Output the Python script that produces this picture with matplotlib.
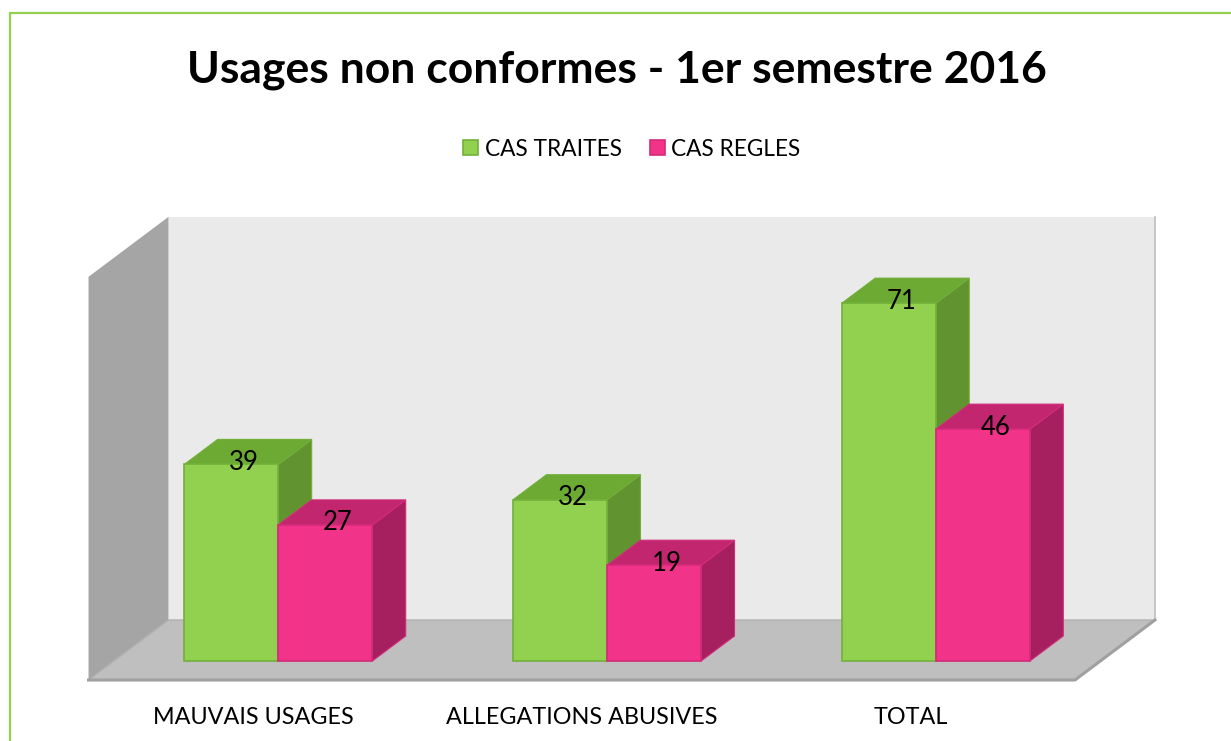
import matplotlib
matplotlib.use("Agg")
import matplotlib.pyplot as plt
from matplotlib.patches import Polygon, Rectangle
import numpy as np

# ---------------- data ----------------
title = "Usages non conformes - 1er semestre 2016"
categories = ["MAUVAIS USAGES", "ALLEGATIONS ABUSIVES", "TOTAL"]
series_names = ["CAS TRAITES", "CAS REGLES"]
cas_traites = [39, 32, 71]
cas_regles = [27, 19, 46]
axis_max = 80

# ---------------- style ----------------
W, H = 1231, 741
FONT = "Lato"
front_cols = ["#92D050", "#F2338A"]
top_cols = ["#6DAA34", "#C1266E"]
side_cols = ["#629331", "#A61F5E"]
edge_cols = ["#72B03A", "#D42A7A"]
back_wall_col = "#EAEAEA"
left_wall_col = "#A5A5A5"
floor_col = "#BFBFBF"
floor_edge_col = "#A0A0A0"
border_col = "#92D050"

# pixel mapping of the data plane (front faces of bars)
x0_px, x_scale = 278.3, 328.8     # px of category 0 centre, px per category
y0_px, y_scale = 661.0, 5.04      # px (from top) of value 0, px per unit
# oblique depth: full depth vector in data units
ddx = 80.0 / x_scale
ddy = 60.0 / y_scale
t_front, t_bar, t_back = -0.317, 0.417, 0.683
bar_w = 0.286

fig = plt.figure(figsize=(W / 100, H / 100), dpi=100)
ax = fig.add_axes([0, 0, 1, 1])
ax.set_xlim(-x0_px / x_scale, (W - x0_px) / x_scale)
ax.set_ylim((y0_px - H) / y_scale, y0_px / y_scale)
ax.axis("off")


def P(x, y, t):
    return (x + t * ddx, y + t * ddy)


n = len(categories)
xl, xr = -0.5, n - 0.5

# left wall
ax.add_patch(Polygon([P(xl, 0, t_front), P(xl, 0, t_back), P(xl, axis_max, t_back),
                      P(xl, axis_max, t_front)], closed=True, fc=left_wall_col, ec="none", zorder=1))
# back wall
ax.add_patch(Polygon([P(xl, 0, t_back), P(xr, 0, t_back), P(xr, axis_max, t_back),
                      P(xl, axis_max, t_back)], closed=True, fc=back_wall_col, ec="none", zorder=1))
bx = [P(xr, 0, t_back)[0], P(xr, axis_max, t_back)[0]]
by = [P(xr, 0, t_back)[1], P(xr, axis_max, t_back)[1]]
ax.plot(bx, by, color="#BDBDBD", lw=1.2, zorder=1.1)
# floor
ax.add_patch(Polygon([P(xl, 0, t_front), P(xr, 0, t_front), P(xr, 0, t_back),
                      P(xl, 0, t_back)], closed=True, fc=floor_col, ec="none", zorder=2))
fx = [P(xl, 0, t_front)[0], P(xr, 0, t_front)[0], P(xr, 0, t_back)[0]]
fy = [P(xl, 0, t_front)[1], P(xr, 0, t_front)[1], P(xr, 0, t_back)[1]]
ax.plot(fx, fy, color=floor_edge_col, lw=2.2, zorder=2.1, solid_joinstyle="miter")
lx = [P(xl, 0, t_front)[0], P(xl, 0, t_back)[0], P(xr, 0, t_back)[0]]
ly = [P(xl, 0, t_front)[1], P(xl, 0, t_back)[1], P(xr, 0, t_back)[1]]
ax.plot(lx, ly, color="#B0B0B0", lw=1.0, zorder=2.05)

# bars
xs = np.arange(n)
bdx, bdy = t_bar * ddx, t_bar * ddy
z = 3
for s, vals in enumerate([cas_traites, cas_regles]):
    lefts = xs - bar_w + s * bar_w
    for xleft, v in zip(lefts, vals):
        xright = xleft + bar_w
        side = [(xright, 0), (xright + bdx, bdy), (xright + bdx, v + bdy), (xright, v)]
        top = [(xleft, v), (xright, v), (xright + bdx, v + bdy), (xleft + bdx, v + bdy)]
        ax.add_patch(Polygon(side, closed=True, fc=side_cols[s], ec=edge_cols[s], lw=0.8, zorder=z))
        ax.add_patch(Polygon(top, closed=True, fc=top_cols[s], ec=edge_cols[s], lw=0.8, zorder=z))
    ax.bar(lefts, vals, width=bar_w, align="edge", color=front_cols[s],
           edgecolor=edge_cols[s], linewidth=1.2, zorder=z + 0.5)
    for xleft, v in zip(lefts, vals):
        ax.text(xleft + bar_w / 2 + 0.038, v + 0.4, f"{v}", ha="center", va="center",
                fontsize=18.5, family=FONT, color="black", zorder=10)
    z += 1

# category labels on front floor edge
for i, c in enumerate(categories):
    cx, cy = P(i, 0, t_front)
    ax.text(cx, cy - 7.4, c, ha="center", va="center", fontsize=16.8,
            family=FONT, color="black")


def fpx(x, y):
    return x / W, 1 - y / H


# title
fig.text(*fpx(616.5, 82), title, ha="center", va="baseline", fontsize=32,
         fontweight="bold", family=FONT, color="black")

# legend
leg_items = [(463, 485), (650, 671)]
for s, (sqx, txx) in enumerate(leg_items):
    fx0, fy0 = fpx(sqx, 155)
    fig.patches.append(Rectangle((fx0, fy0), 15 / W, 15 / H, transform=fig.transFigure,
                                 fc=front_cols[s], ec=edge_cols[s], lw=1.2))
    fig.text(*fpx(txx, 150), series_names[s], ha="left", va="center", fontsize=16.3,
             family=FONT, color="black")

# outer border
bx0, by0 = fpx(9.5, 745)
fig.patches.append(Rectangle((bx0, by0), 1.2, (745 - 12.5) / H, transform=fig.transFigure,
                             fc="none", ec=border_col, lw=1.6))

fig.savefig("out.png", dpi=100, facecolor="white")
